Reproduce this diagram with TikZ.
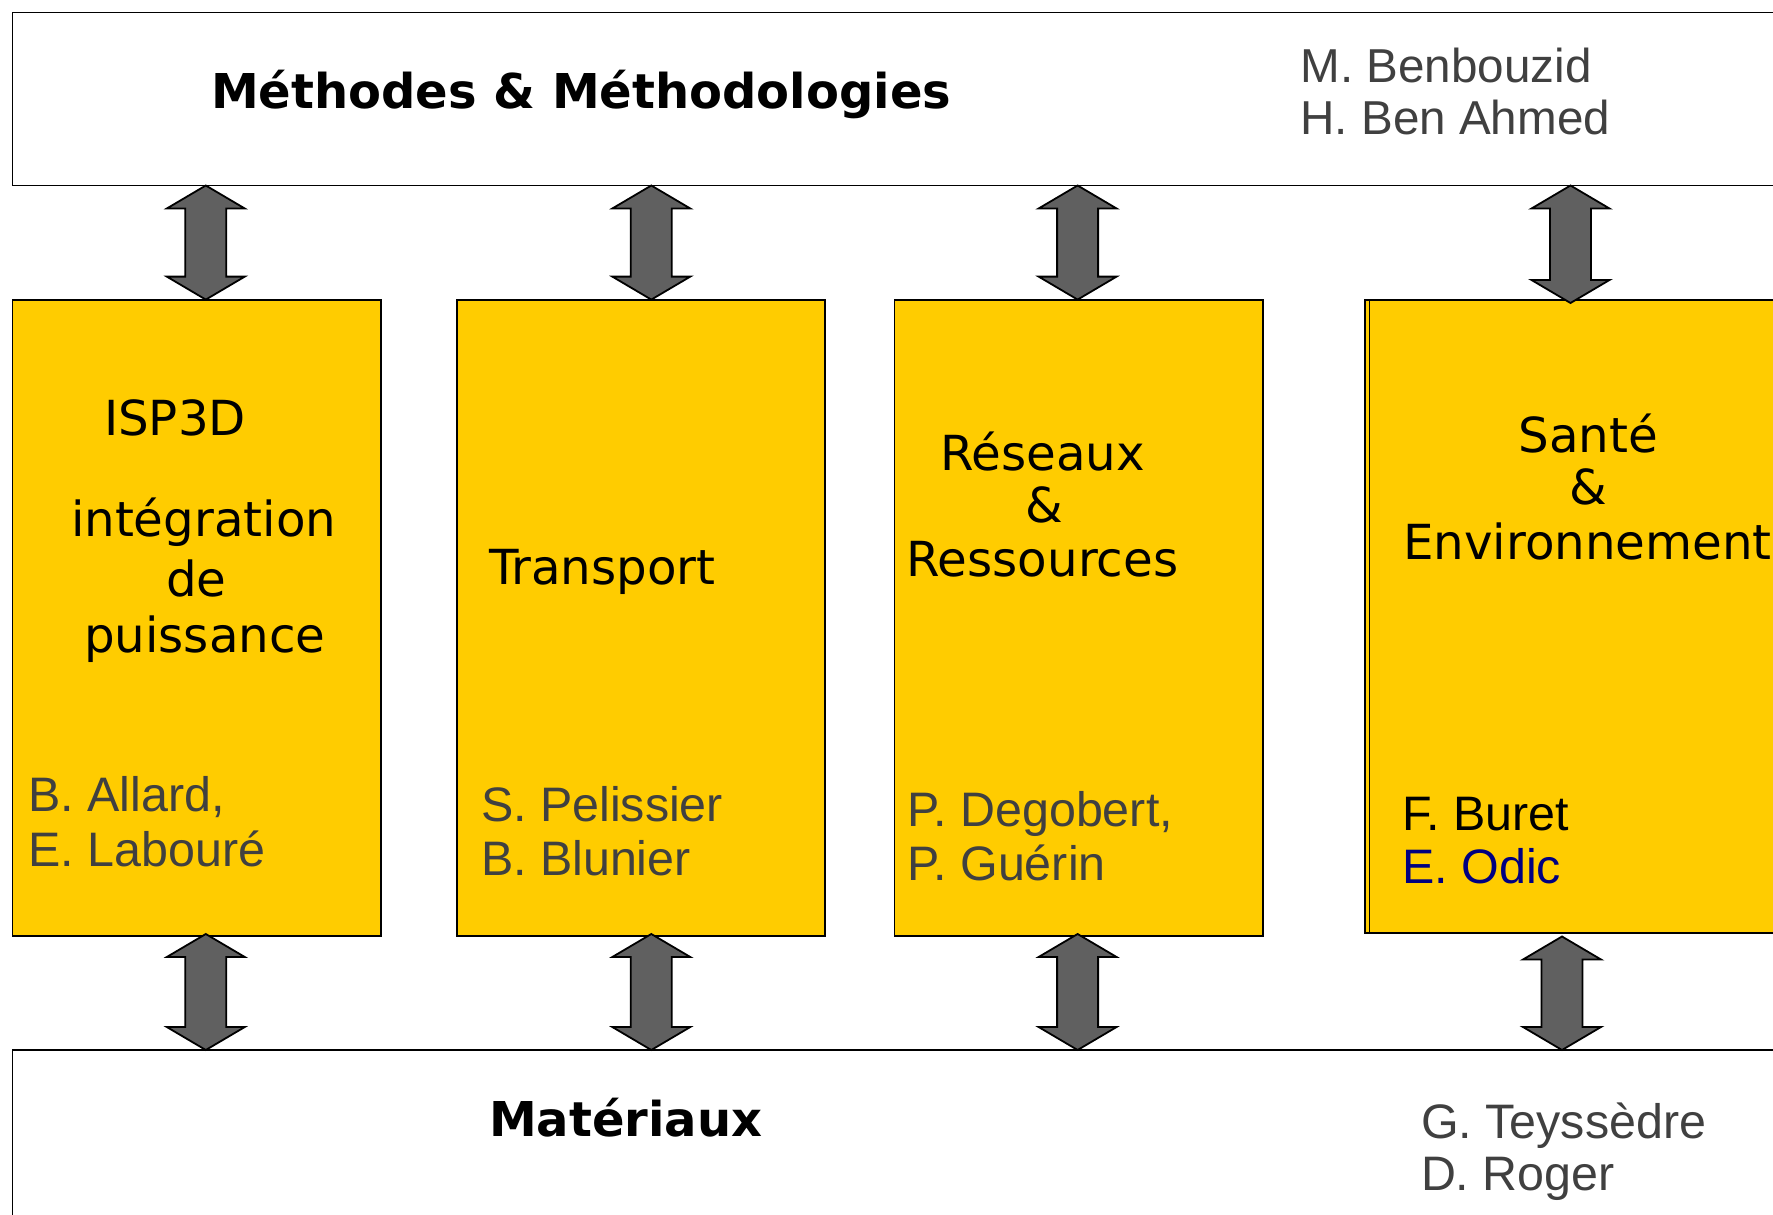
\documentclass[tikz,border=0pt]{standalone}
\usepackage{fontspec}
\setmainfont{DejaVu Sans}
\newfontfamily\namefont{Liberation Sans}
\usetikzlibrary{calc}
\definecolor{boxyellow}{RGB}{255,204,0}
\definecolor{arrowgray}{RGB}{96,96,96}
\definecolor{namegray}{RGB}{64,64,64}
\definecolor{odicblue}{RGB}{0,0,128}
% block double arrow from top tip #1 to bottom tip #2
\newcommand\dblarrowshape[2]{%
  \draw[arrowshape] (#1) -- ++(39,23) -- ++(-18.5,0) -- ($(#2)+(20.5,-23)$)
    -- ++(18.5,0) -- (#2) -- ++(-39,-23) -- ++(18.5,0)
    -- ($(#1)+(-20.5,23)$) -- ++(-18.5,0) -- cycle;}
\begin{document}
\begin{tikzpicture}[x=1pt,y=-1pt,
  every node/.style={inner sep=0pt,outer sep=0pt},
  titletext/.style={anchor=base west,font=\fontsize{48.3}{57}\selectfont},
  headtext/.style={anchor=base west,font=\fontsize{48}{57}\selectfont\bfseries},
  person/.style={anchor=base west,font=\namefont\fontsize{48.4}{55}\selectfont,text=namegray},
  topperson/.style={anchor=base west,font=\namefont\fontsize{47.6}{55}\selectfont,text=namegray},
  panel/.style={draw=black,line width=1.8pt,fill=boxyellow,anchor=north west,
    minimum height=636.4pt},
  band/.style={draw=black,line width=1.5pt,fill=white,anchor=north west,
    minimum width=1800pt},
  arrowshape/.style={draw=black,line width=1.8pt,fill=arrowgray,line join=miter}]
\useasboundingbox (0,0) rectangle (1773,1215);
\clip (0,0) rectangle (1773,1215);
\fill[white] (0,0) rectangle (1773,1215);

% bands
\node[band,minimum height=173pt] (top) at (12.4,12.4) {};
\node[band,minimum height=200pt] (bot) at (12.4,1050) {};

% panels
\node[panel,minimum width=368.6pt] (m1) at (12.4,299.6) {};
\node[panel,minimum width=368pt] (m2) at (457,299.6) {};
\node[panel,minimum width=368.5pt] (m3) at (894.5,299.6) {};
\node[panel,minimum width=450pt,minimum height=633.4pt] (m4) at (1365,299.6) {};
\draw[line width=1.5pt] ($(m4.north west)+(4.5,0)$) -- ($(m4.south west)+(4.5,0)$);

% arrow end points
\coordinate (t1) at (205.8,185.5); \coordinate (u1) at (205.8,299.6);
\coordinate (t2) at (651.3,185.5); \coordinate (u2) at (651.3,299.6);
\coordinate (t3) at (1077.6,185.5); \coordinate (u3) at (1077.6,299.6);
\coordinate (t4) at (1570.5,185.5); \coordinate (u4) at (1570.5,303);
\coordinate (v1) at (205.8,934); \coordinate (w1) at (205.8,1050);
\coordinate (v2) at (651.3,934); \coordinate (w2) at (651.3,1050);
\coordinate (v3) at (1077.6,934); \coordinate (w3) at (1077.6,1050);
\coordinate (v4) at (1562,936.5); \coordinate (w4) at (1562,1050);
\dblarrowshape{t1}{u1}
\dblarrowshape{t2}{u2}
\dblarrowshape{t3}{u3}
\dblarrowshape{t4}{u4}
\dblarrowshape{v1}{w1}
\dblarrowshape{v2}{w2}
\dblarrowshape{v3}{w3}
\dblarrowshape{v4}{w4}

% band texts
\node[headtext] (h1) at (211,108.5) {Méthodes \& Méthodologies};
\node[topperson] (p1) at (1300.5,82) {M. Benbouzid};
\node[topperson] (p2) at (1300.5,134.6) {H. Ben Ahmed};
\node[headtext] (h2) at (489,1136) {Matériaux};
\node[person] (p3) at (1421,1138.3) {G. Teyssèdre};
\node[person] (p4) at (1421,1190) {D. Roger};

% panel 1
\node[titletext] (a1) at (104,435) {ISP3D};
\node[titletext] (a2) at (71,536.7) {intégration};
\node[titletext] (a3) at (166,596) {de};
\node[titletext] (a4) at (84,652) {puissance};
\node[person] (n1) at (28.5,811.7) {B. Allard,};
\node[person] (n2) at (28.5,866) {E. Labouré};

% panel 2
\node[titletext] (b1) at (489,584) {Transport};
\node[person] (n3) at (481,821.7) {S. Pelissier};
\node[person] (n4) at (481,875) {B. Blunier};

% panel 3
\node[titletext] (c1) at (940,470) {Réseaux};
\node[titletext] (c2) at (1025.5,522.7) {\&};
\node[titletext] (c3) at (906.5,576.7) {Ressources};
\node[person] (n5) at (907.5,826.7) {P. Degobert,};
\node[person] (n6) at (907.5,880) {P. Guérin};

% panel 4
\node[titletext] (d1) at (1518.5,452.3) {Santé};
\node[titletext] (d2) at (1569,504) {\&};
\node[titletext] (d3) at (1403,559.3) {Environnement};
\node[person,text=black] (n7) at (1402.5,830.7) {F. Buret};
\node[person,text=odicblue] (n8) at (1402.5,883.3) {E. Odic};
\end{tikzpicture}
\end{document}
